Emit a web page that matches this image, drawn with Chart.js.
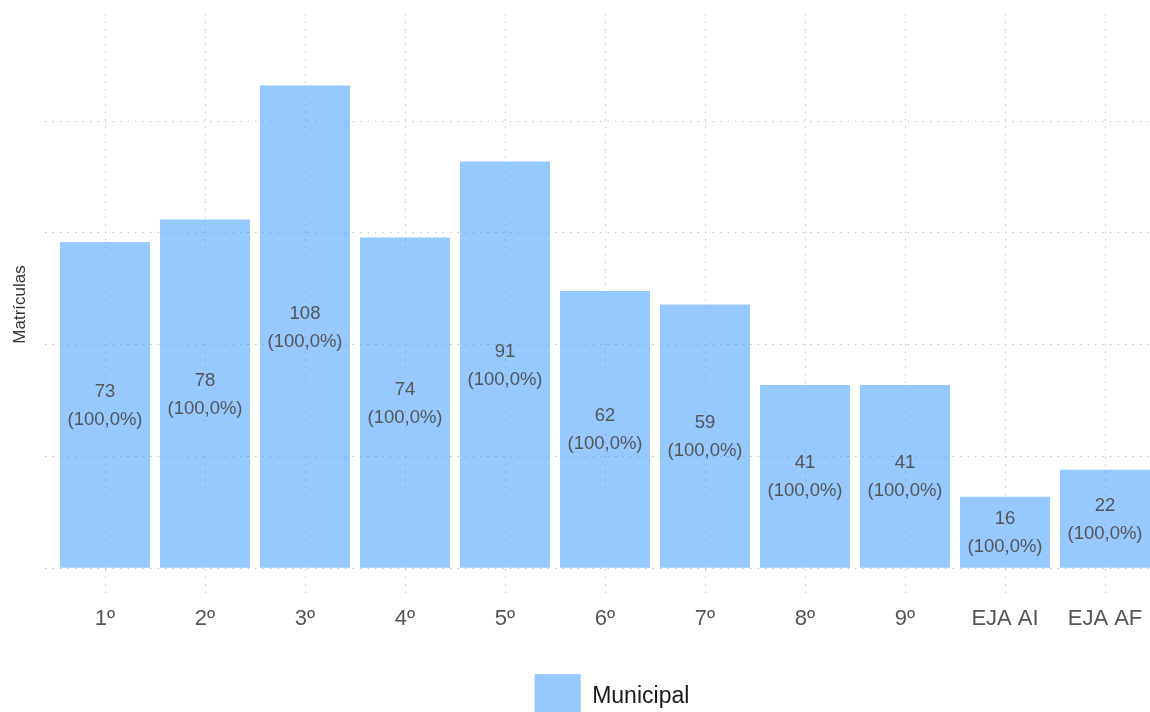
<!DOCTYPE html>
<html>
<head>
<meta charset="utf-8">
<script src="https://cdn.jsdelivr.net/npm/chart.js"></script>
<style>
    html, body { margin: 0; padding: 0; overflow: hidden; background: #fff; }
    #matriculasChart { position: absolute; left: 0; top: 0; }
</style>
</head>
<body>
<canvas id="matriculasChart" width="1224" height="730"></canvas>
<script>
// Data
const categories = ["1º", "2º", "3º", "4º", "5º", "6º", "7º", "8º", "9º", "EJA AI", "EJA AF"];
const municipalValues = [73, 78, 108, 74, 91, 62, 59, 41, 41, 16, 22];
const municipalShares = ["100,0%", "100,0%", "100,0%", "100,0%", "100,0%", "100,0%", "100,0%", "100,0%", "100,0%", "100,0%", "100,0%"];
const yTickValues = [0, 25, 50, 75, 100];

const FONT = "'Liberation Sans', Arial, sans-serif";
const gridColor = "#c4c4c4";

// Labels drawn in the middle of each bar
const barLabels = {
    id: "barLabels",
    afterDatasetsDraw(chart) {
        const ctx = chart.ctx;
        const meta = chart.getDatasetMeta(0);
        ctx.save();
        ctx.fillStyle = "#555555";
        ctx.font = "18.5px " + FONT;
        ctx.textAlign = "center";
        ctx.textBaseline = "middle";
        meta.data.forEach((bar, i) => {
            const mid = (bar.y + bar.base) / 2;
            ctx.fillText(String(municipalValues[i]), bar.x, mid - 13);
            ctx.fillText("(" + municipalShares[i] + ")", bar.x, mid + 15);
        });
        ctx.restore();
    }
};

const ctx = document.getElementById("matriculasChart").getContext("2d");
new Chart(ctx, {
    type: "bar",
    data: {
        datasets: [{
            label: "Municipal",
            data: municipalValues.map((v, i) => ({ x: i + 1, y: v })),
            backgroundColor: "rgba(46, 148, 255, 0.5)",
            borderWidth: 0,
            barPercentage: 0.9,
            categoryPercentage: 1.0
        }]
    },
    options: {
        responsive: false,
        animation: false,
        layout: { padding: { top: 14, right: 0, bottom: 0, left: 0 } },
        scales: {
            x: {
                type: "linear",
                min: 0.4,
                max: 12.19,
                offset: false,
                afterBuildTicks: (scale) => {
                    scale.ticks = categories.map((c, i) => ({ value: i + 1 }));
                },
                afterFit: (scale) => { scale.height = 69; },
                ticks: {
                    autoSkip: false,
                    maxRotation: 0,
                    padding: 11,
                    color: "#555555",
                    font: { family: FONT, size: 22 },
                    callback: (v) => categories[Math.round(v) - 1]
                },
                grid: { offset: false, color: gridColor, lineWidth: 1, drawTicks: false },
                border: { display: false, dash: [1.5, 6] }
            },
            y: {
                min: -6,
                max: 124,
                afterBuildTicks: (scale) => {
                    scale.ticks = yTickValues.map(v => ({ value: v }));
                },
                afterFit: (scale) => { scale.width = 45; },
                ticks: { display: false },
                grid: { color: gridColor, lineWidth: 1, drawTicks: false },
                border: { display: false, dash: [1.5, 6] },
                title: {
                    display: true,
                    text: "Matrículas",
                    color: "#333333",
                    font: { family: FONT, size: 17 },
                    padding: { top: 10, bottom: 0 }
                }
            }
        },
        plugins: {
            legend: {
                position: "bottom",
                labels: {
                    boxWidth: 46,
                    boxHeight: 46,
                    padding: 10,
                    color: "#1a1a1a",
                    font: { family: FONT, size: 23 }
                }
            },
            tooltip: { enabled: false }
        }
    },
    plugins: [barLabels]
});
</script>
</body>
</html>
